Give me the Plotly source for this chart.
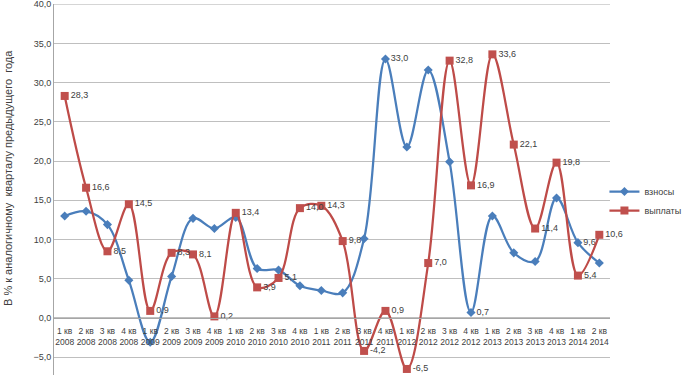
import plotly.graph_objects as go

categories = [f"{q} кв<br>{y}" for y in range(2008, 2015) for q in range(1, 5)][:26]

vznosy = [13.0, 13.6, 11.9, 4.8, -3.1, 5.3, 12.7, 11.4, 12.8, 6.3, 6.1, 4.1, 3.5,
          3.2, 10.1, 33.0, 21.8, 31.6, 19.9, 0.7, 13.0, 8.3, 7.2, 15.3, 9.6, 7.0]
vyplaty = [28.3, 16.6, 8.5, 14.5, 0.9, 8.3, 8.1, 0.2, 13.4, 3.9, 5.1, 14.0, 14.3,
           9.8, -4.2, 0.9, -6.5, 7.0, 32.8, 16.9, 33.6, 22.1, 11.4, 19.8, 5.4, 10.6]
vznosy_labelled = {15, 19, 24}

y_ticks = [-5, 0, 5, 10, 15, 20, 25, 30, 35, 40]
y_min, y_max = -7.27, 40.02

def fmt(v):
    return f"{v:.1f}".replace(".", ",")

blue = "#4A7EBB"
red = "#BE4B48"
font = "Liberation Sans"
txt = "#404040"
H = 375
T, B = 4, 0
plot_h = H - T - B

fig = go.Figure()
fig.add_trace(go.Scatter(
    x=categories, y=vznosy, name="взносы", mode="lines+markers+text",
    line=dict(color=blue, width=2.25, shape="spline", smoothing=1.0),
    marker=dict(symbol="diamond", size=7, color=blue),
    text=[fmt(v) if i in vznosy_labelled else "" for i, v in enumerate(vznosy)],
    textposition="middle right", textfont=dict(family=font, size=9, color=txt),
    cliponaxis=False,
))
fig.add_trace(go.Scatter(
    x=categories, y=vyplaty, name="выплаты", mode="lines+markers+text",
    line=dict(color=red, width=2.25, shape="spline", smoothing=1.0),
    marker=dict(symbol="square", size=8, color="#C0504D"),
    text=[fmt(v) for v in vyplaty],
    textposition="middle right", textfont=dict(family=font, size=9, color=txt),
    cliponaxis=False,
))

fig.update_layout(
    width=685, height=H,
    margin=dict(l=54, r=75, t=T, b=B, autoexpand=False),
    paper_bgcolor="white", plot_bgcolor="white",
    separators=",.",
    font=dict(family=font, size=9, color=txt),
    showlegend=True,
    legend=dict(x=0.99, y=(H - 201) / plot_h, xanchor="left", yanchor="middle",
                font=dict(family=font, size=9, color=txt),
                itemwidth=30, tracegroupgap=0, bgcolor="rgba(0,0,0,0)"),
    xaxis=dict(type="category", anchor="free",
               position=(0 - y_min) / (y_max - y_min),
               showgrid=False, showline=True, linecolor="#A6A6A6", linewidth=1,
               ticks="", tickfont=dict(family=font, size=8.5, color=txt),
               ticklabelstandoff=5,
               tickangle=0, range=[-0.5, 25.5], zeroline=False, automargin=False),
    yaxis=dict(range=[y_min, y_max], tickvals=y_ticks, tickformat=".1f",
               showgrid=True, gridcolor="#BFBFBF", gridwidth=1,
               showline=True, linecolor="#A6A6A6", linewidth=1, zeroline=False,
               ticks="", tickfont=dict(family=font, size=9, color=txt),
               ticklabeloverflow="allow", automargin=False),
    shapes=[dict(type="line", xref="paper", yref="y", x0=0, x1=1,
                 y0=y_ticks[-1], y1=y_ticks[-1], layer="below",
                 line=dict(color="#BFBFBF", width=1))],
    annotations=[dict(text="В % к аналогичному  кварталу предыдущего  года",
                      xref="paper", yref="paper", x=-54/556, y=(H - 178) / plot_h,
                      xanchor="left", yanchor="middle", textangle=-90,
                      showarrow=False, font=dict(family=font, size=11, color=txt))],
)

fig.write_html("out.html", config={"displayModeBar": False},
               post_script="document.body.style.margin='0';")
